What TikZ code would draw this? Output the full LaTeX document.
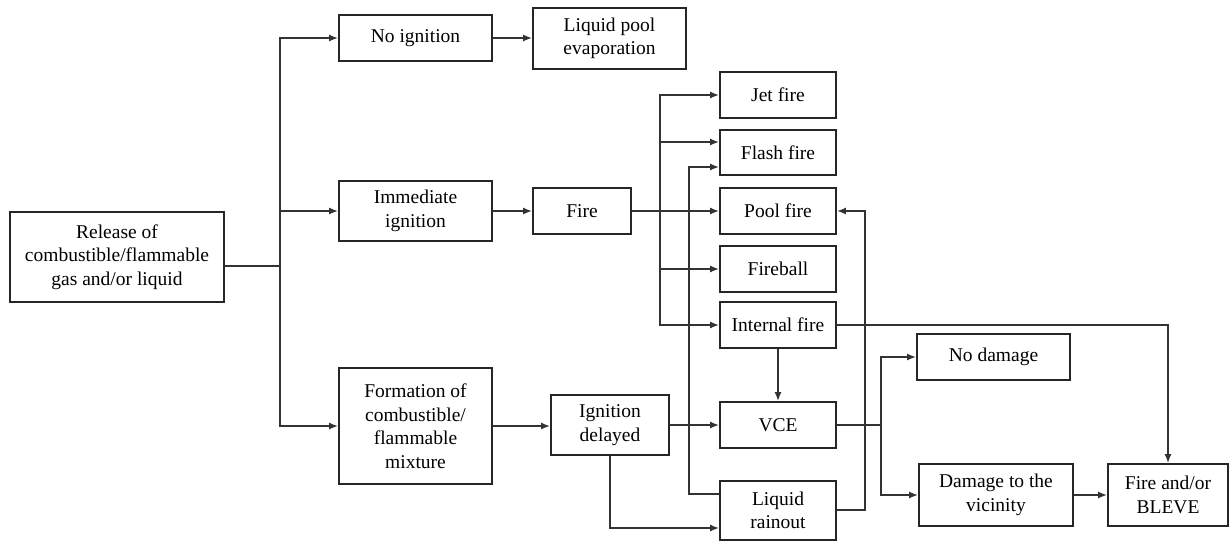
\documentclass[tikz,border=0pt]{standalone}
\usepackage{fontspec}
\setmainfont{Liberation Serif}
\usetikzlibrary{arrows.meta}
\begin{document}
\begin{tikzpicture}[x=1pt,y=1pt,
  box/.style={draw=black!85, line width=1.8pt, fill=white, inner sep=0pt,
    align=center, font=\fontsize{19.5}{23.5}\selectfont},
  conn/.style={draw=black!80, line width=1.6pt},
  arr/.style={conn, -{Latex[length=9pt,width=7pt]}}]
\useasboundingbox (0,0) rectangle (1230,-541);

% boxes: centre, width, height
\node[box, minimum width=214, minimum height=90] (rel) at (117,-257) {Release of\\combustible/flammable\\gas and/or liquid};
\node[box, minimum width=153, minimum height=46] (noig) at (415.5,-38) {No ignition};
\node[box, minimum width=153, minimum height=60] (immig) at (415.5,-211) {Immediate\\ignition};
\node[box, minimum width=153, minimum height=116] (form) at (415.5,-426) {Formation of\\combustible/\\flammable\\mixture};
\node[box, minimum width=153, minimum height=61] (lpe) at (609.5,-38.5) {Liquid pool\\evaporation};
\node[box, minimum width=98, minimum height=46] (fire) at (582,-211) {Fire};
\node[box, minimum width=116, minimum height=46] (jet) at (778,-95) {Jet fire};
\node[box, minimum width=116, minimum height=45] (flash) at (778,-152.5) {Flash fire};
\node[box, minimum width=116, minimum height=46] (pool) at (778,-211) {Pool fire};
\node[box, minimum width=116, minimum height=46] (fireball) at (778,-269) {Fireball};
\node[box, minimum width=116, minimum height=46] (internal) at (778,-325) {Internal fire};
\node[box, minimum width=116, minimum height=46] (vce) at (778,-425) {VCE};
\node[box, minimum width=116, minimum height=59] (rain) at (778,-510.5) {Liquid\\rainout};
\node[box, minimum width=118, minimum height=60] (igd) at (610,-425) {Ignition\\delayed};
\node[box, minimum width=153, minimum height=46] (nodmg) at (993.5,-357) {No damage};
\node[box, minimum width=154, minimum height=62] (dmg) at (996,-495) {Damage to the\\vicinity};
\node[box, minimum width=120, minimum height=62] (bleve) at (1168,-495) {Fire and/or\\BLEVE};

% junction points of the branching lines
\coordinate (ja) at (280,-266);
\coordinate (jb) at (660,-211);
\coordinate (jc) at (881,-425);

% release branches
\draw[conn] ([yshift=-9pt]rel.east) -- (ja);
\draw[arr] (ja) |- (noig.west);
\draw[arr] (ja) |- (immig.west);
\draw[arr] (ja) |- (form.west);

\draw[arr] (noig.east) -- (noig.east -| lpe.west);
\draw[arr] (immig.east) -- (immig.east -| fire.west);
\draw[arr] (form.east) -- (form.east -| igd.west);

% fire outcomes
\draw[arr] (fire.east) -- (pool.west);
\draw[arr] (jb) |- (jet.west);
\draw[arr] (jb) |- ([yshift=10.5pt]flash.west);
\draw[arr] (jb) |- (fireball.west);
\draw[arr] (jb) |- (internal.west);

% delayed ignition
\draw[arr] (igd.east) -- (igd.east -| vce.west);
\draw[arr] (igd.south) |- ([yshift=-17.5pt]rain.west);
\draw[arr] ([yshift=16.5pt]rain.west) -- ++(-30,0) |- ([yshift=-14.5pt]flash.west);
\draw[arr] ([yshift=0.5pt]rain.east) -- ++(28,0) |- (pool.east);
\draw[arr] (internal.south) -- (vce.north);
\draw[arr] (internal.east) -| (bleve.north);

% explosion consequences
\draw[conn] (vce.east) -- (jc);
\draw[arr] (jc) |- (nodmg.west);
\draw[arr] (jc) |- (dmg.west);
\draw[arr] (dmg.east) -- (bleve.west);
\end{tikzpicture}
\end{document}
